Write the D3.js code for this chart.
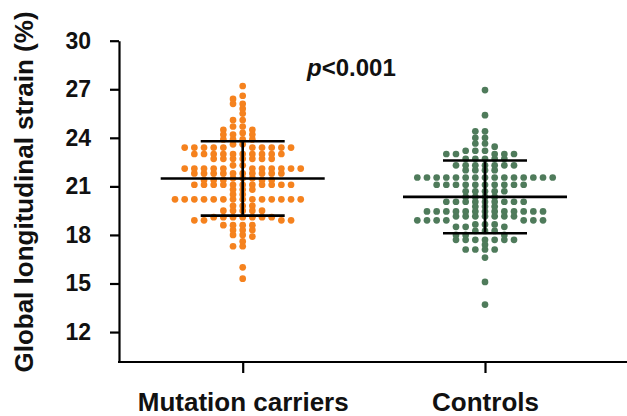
<!DOCTYPE html>
<html>
  <head>
    <meta http-equiv="content-type" content="text/html; charset=UTF-8">
    <title>GLS dot plot</title>
    <script type='text/javascript' src='https://d3js.org/d3.v7.min.js'></script>
    <style type='text/css'>
      body { margin: 0; background-color: white; }
      text { font-family: "Liberation Sans", Arial, sans-serif; font-weight: bold; }
    </style>
  </head>
  <body>
    <script type='text/javascript'>
      var groups = ["Mutation carriers", "Controls"];
      var colors = ["#f5821e", "#4f7b5b"];
      var yTicks = [12, 15, 18, 21, 24, 27, 30];

      // values, top to bottom
      var carriers = [27.2, 26.6, 26.4, 26.1, 26.1, 25.8, 25.5, 25.1, 25.1, 24.7, 24.7, 24.5, 24.5, 24.3,
        24.2, 24.2, 24.2, 23.9, 23.9, 23.9, 23.9, 23.6, 23.6,
        23.4, 23.4, 23.4, 23.4, 23.4, 23.4, 23.4, 23.4, 23.4, 23.4,
        23.0, 23.0, 23.0, 23.0, 23.0, 23.0, 23.0, 23.0, 23.0, 23.0,
        22.7, 22.7, 22.7, 22.7, 22.7, 22.7, 22.7,
        22.3, 22.3,
        22.1, 22.1, 22.1, 22.1, 22.1, 22.1, 22.1, 22.1, 22.1, 22.1, 22.1,
        21.8, 21.8, 21.8, 21.8, 21.8, 21.8, 21.8, 21.8, 21.8, 21.8,
        21.5, 21.5, 21.5, 21.4, 21.4, 21.4, 21.4, 21.4,
        21.1, 21.1, 21.1, 21.1, 21.1, 21.1, 21.1, 21.1, 21.1, 21.1, 21.1,
        20.8, 20.8, 20.8, 20.5, 20.5,
        20.2, 20.2, 20.2, 20.2, 20.2, 20.2, 20.2, 20.2, 20.2, 20.2, 20.2, 20.2, 20.2, 20.2,
        19.8, 19.8, 19.8, 19.5, 19.5, 19.5, 19.5, 19.5,
        19.1, 19.1, 19.1, 19.1, 19.1, 19.1, 19.1,
        18.9, 18.9, 18.9, 18.9, 18.6, 18.6, 18.6, 18.6,
        18.3, 18.3, 18.3, 18.0, 18.0, 17.9, 17.6, 17.3, 17.3, 16.0, 15.3];

      var controls = [26.95, 25.4, 24.4, 24.4, 24.0, 24.0, 23.65, 23.65, 23.45,
        23.2, 23.2, 23.2, 23.0, 23.0, 23.0, 23.0, 23.0,
        22.7, 22.7, 22.7, 22.7, 22.7,
        22.3, 22.3, 22.3, 22.3, 22.3, 22.3, 22.3,
        22.0, 22.0, 22.0, 22.0,
        21.55, 21.55, 21.55, 21.55, 21.55, 21.55, 21.55, 21.55, 21.55, 21.55, 21.55, 21.55, 21.55, 21.55, 21.55,
        21.1, 21.1, 21.1, 21.1, 21.1, 21.1, 21.1, 21.1, 21.1, 21.1,
        20.7, 20.7, 20.7, 20.7, 20.7,
        20.35, 20.35, 20.35, 20.35,
        20.05, 20.05, 20.05, 20.05, 20.05, 20.05, 20.05, 20.05, 20.05,
        19.75, 19.75, 19.75,
        19.45, 19.45, 19.45, 19.45, 19.45, 19.45, 19.45, 19.45, 19.45, 19.45, 19.45, 19.45, 19.45,
        19.15, 19.15, 19.15, 19.15, 19.15, 19.15, 19.15,
        18.9, 18.9, 18.9, 18.9, 18.9, 18.9, 18.9,
        18.65, 18.65, 18.65, 18.5, 18.5, 18.5,
        18.25, 18.25, 18.25, 18.0, 18.0, 18.0,
        17.7, 17.7, 17.7, 17.7, 17.7, 17.7, 17.7,
        17.4, 17.1, 17.1, 17.1, 17.1, 16.6, 15.1, 13.7];

      // mean and SD bars as drawn
      var means = [21.49, 20.35];
      var sds = [2.3, 2.25];

      var w = 627, h = 416;
      var svg = d3.select("body").append("svg").attr("width", w).attr("height", h);

      var axisX = 119, axisY = 362;
      var y = d3.scaleLinear().domain([10.15, 30]).range([axisY, 40.7]);
      var x = d3.scalePoint().domain(groups).range([242.7, 485]);

      // swarm: dots sit on a fixed column grid, nearest free column to the centre
      var r = 3.35, step = 9.67, minGap = 4.6;
      function swarm(values, cx) {
        var cols = {};
        return values.map(function(v) {
          var py = y(v);
          for (var i = 0; ; i++) {
            var k = (i % 2 === 0) ? i / 2 : -(i + 1) / 2;
            var used = cols[k] || [];
            var hit = used.some(function(u) { return Math.abs(u - py) < minGap; });
            if (!hit) {
              used.push(py);
              cols[k] = used;
              return { x: cx + k * step, y: py };
            }
          }
        });
      }

      [carriers, controls].forEach(function(vals, gi) {
        var pts = swarm(vals, x(groups[gi]));
        svg.append("g").selectAll("circle").data(pts).enter().append("circle")
          .attr("cx", function(d) { return d.x; })
          .attr("cy", function(d) { return d.y; })
          .attr("r", r)
          .style("fill", colors[gi]);
      });

      // mean +/- SD
      groups.forEach(function(g, gi) {
        var cx = x(g), bars = svg.append("g").attr("stroke", "black").attr("stroke-width", 2.6);
        bars.append("line").attr("x1", cx - 82).attr("x2", cx + 82)
          .attr("y1", y(means[gi])).attr("y2", y(means[gi]));
        [means[gi] + sds[gi], means[gi] - sds[gi]].forEach(function(v) {
          bars.append("line").attr("x1", cx - 42).attr("x2", cx + 42).attr("y1", y(v)).attr("y2", y(v));
        });
        bars.append("line").attr("x1", cx).attr("x2", cx)
          .attr("y1", y(means[gi] + sds[gi])).attr("y2", y(means[gi] - sds[gi]));
      });

      // axes
      var yAxis = svg.append("g").attr("transform", "translate(" + axisX + ",0)")
        .call(d3.axisLeft(y).tickValues(yTicks).tickSize(9).tickSizeOuter(0).tickPadding(19));
      yAxis.select(".domain").attr("stroke-width", 2.2);
      yAxis.selectAll(".tick line").attr("stroke-width", 2.2);
      yAxis.selectAll(".tick text").style("font-size", "23px").attr("fill", "#111");

      svg.append("line").attr("x1", axisX - 1).attr("x2", w).attr("y1", axisY).attr("y2", axisY)
        .attr("stroke", "black").attr("stroke-width", 2.2);
      var xAxis = svg.append("g").attr("transform", "translate(0," + axisY + ")")
        .call(d3.axisBottom(x).tickSize(11).tickSizeOuter(0).tickPadding(20));
      xAxis.select(".domain").remove();
      xAxis.selectAll(".tick line").attr("stroke-width", 2.2);
      xAxis.selectAll(".tick text").style("font-size", "26px").attr("fill", "#111");

      svg.append("text")
        .attr("transform", "translate(33,192) rotate(-90)")
        .attr("text-anchor", "middle")
        .style("font-size", "26px").attr("fill", "#111")
        .text("Global longitudinal strain (%)");

      var p = svg.append("text").attr("x", 307).attr("y", 76)
        .style("font-size", "24px").attr("fill", "#111");
      p.append("tspan").style("font-style", "italic").text("p");
      p.append("tspan").text("<0.001");
    </script>
  </body>
</html>
